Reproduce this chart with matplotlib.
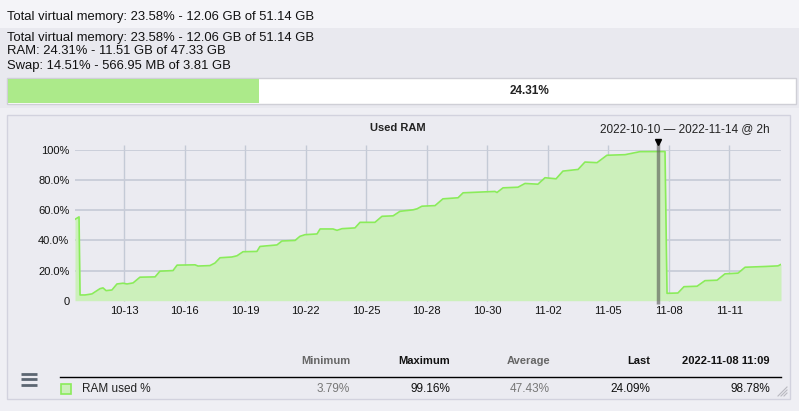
import matplotlib
matplotlib.use("Agg")
import matplotlib.pyplot as plt
from matplotlib.patches import Rectangle
from matplotlib.lines import Line2D

# RAM used % over time (days since start of window, 2h samples)
days = [0.00, 0.20, 0.25, 0.50, 0.84, 1.24, 1.39, 1.54, 1.83, 2.08, 2.38, 2.58, 2.88,
        3.22, 3.97, 4.21, 4.86, 5.06, 5.95, 6.10, 6.69, 6.94, 7.19, 7.78, 8.03, 8.33,
        9.02, 9.17, 10.01, 10.26, 10.91, 11.15, 11.40, 12.00, 12.15, 12.79, 12.99,
        13.24, 13.88, 14.13, 14.87, 15.22, 15.77, 16.11, 16.76, 16.96, 17.20, 17.85,
        18.24, 18.99, 19.24, 20.82, 20.92, 21.22, 21.96, 22.31, 22.95, 23.30, 23.85,
        24.19, 24.94, 25.28, 25.88, 26.37, 27.27, 28.01, 29.25, 29.35, 29.89, 30.19,
        30.84, 31.23, 31.83, 32.22, 32.87, 33.22, 34.21, 34.85, 35.00]
ram_pct = [54.0, 55.6, 3.8, 3.8, 4.5, 8.0, 8.5, 6.7, 7.1, 11.1, 11.6, 11.1, 11.8,
           15.6, 15.8, 19.6, 20.0, 23.6, 23.8, 23.0, 23.3, 25.0, 28.5, 29.0, 29.8, 32.5,
           32.7, 36.0, 37.0, 39.6, 40.0, 42.7, 43.8, 44.3, 47.6, 47.6, 46.7,
           47.8, 48.3, 52.0, 52.0, 56.0, 56.3, 59.3, 60.3, 61.0, 62.7, 63.1,
           67.6, 68.3, 71.6, 72.5, 71.8, 74.9, 75.3, 77.8, 77.3, 81.6, 80.9,
           86.0, 87.1, 92.0, 91.6, 96.5, 96.9, 98.9, 99.0, 4.9, 5.1, 9.3,
           9.6, 13.3, 13.6, 17.8, 18.3, 22.2, 22.7, 23.1, 24.09]

x_labels = ["10-13", "10-16", "10-19", "10-22", "10-25", "10-28", "10-30",
            "11-02", "11-05", "11-08", "11-11"]
first_tick = 2.43   # day offset of the first label
y_ticks = [0, 20, 40, 60, 80, 100]
y_labels = ["0", "20.0%", "40.0%", "60.0%", "80.0%", "100%"]
cursor_day = 28.9

stat_names = ["Minimum", "Maximum", "Average", "Last", "2022-11-08 11:09"]
stat_values = ["3.79%", "99.16%", "47.43%", "24.09%", "98.78%"]
stat_gray = [True, False, True, False, False]

header_lines = ["Total virtual memory: 23.58% - 12.06 GB of 51.14 GB",
                "RAM: 24.31% - 11.51 GB of 47.33 GB",
                "Swap: 14.51% - 566.95 MB of 3.81 GB"]
ram_used = 24.31
bar_fill = 0.318   # width of the green part as drawn in the widget

W, H = 799, 411
plt.rcParams['font.family'] = ['Liberation Sans', 'DejaVu Sans']

fig = plt.figure(figsize=(W / 100, H / 100), dpi=100)
fig.patch.set_facecolor("#efeff4")


def fx(x):
    return x / W


def fy(y):
    return 1 - y / H


def rect(x0, y0, x1, y1, **kw):
    fig.patches.append(Rectangle((fx(x0), fy(y1)), (x1 - x0) / W, (y1 - y0) / H,
                                 transform=fig.transFigure, zorder=-1, **kw))


def line(xs, ys, **kw):
    fig.lines.append(Line2D([fx(v) for v in xs], [fy(v) for v in ys],
                            transform=fig.transFigure, **kw))


# top bands
rect(0, 0, W, 28, facecolor="#f4f4f8", edgecolor="none")
rect(0, 28, W, 108, facecolor="#e9e9ef", edgecolor="none")
fs_top = 9.4
fig.text(fx(7), fy(17), header_lines[0], fontsize=fs_top, va="center", color="#111111")
for i, t in enumerate(header_lines):
    fig.text(fx(7), fy(37.5 + 14 * i), t, fontsize=fs_top, va="center", color="#111111")

# progress bar
bar_x0, bar_x1 = 7, 796
rect(bar_x0, 78, bar_x1, 104, facecolor="white", edgecolor="#cfcfd6", linewidth=1)
rect(bar_x0 + 1, 79, bar_x0 + 1 + (bar_x1 - bar_x0) * bar_fill, 103,
     facecolor="#acea8a", edgecolor="none")
fig.text(fx(530), fy(91), f"{ram_used:.2f}%", fontsize=8.5, fontweight="bold",
         ha="center", va="center", color="#222222")

# chart panel
rect(7, 115, 790, 399, facecolor="#ebebf1", edgecolor="#d2d2de", linewidth=1)

ax = fig.add_axes([fx(75), fy(300.7), 706 / W, 150.7 / H])
ax.set_zorder(2)
ax.set_facecolor("none")
ax.fill_between(days, ram_pct, 0, color="#ccf0bb", linewidth=0, zorder=2)
ax.plot(days, ram_pct, color="#8aec5a", linewidth=1.2, zorder=3)
ax.set_xlim(0, 35)
ax.set_ylim(0, 100)

xt = [first_tick + 3 * i for i in range(len(x_labels))]
ax.set_xticks(xt)
ax.set_xticklabels(x_labels, fontsize=8, color="#111111")
ax.set_yticks(y_ticks)
ax.set_yticklabels(y_labels, fontsize=8, color="#111111")
ax.tick_params(length=0, pad=4)
ax.vlines(xt, 0, 103, color="#c4cad6", linewidth=1, clip_on=False, zorder=1)
ax.hlines(y_ticks[1:], 0, 35, color="#c8ccd8", linewidth=1.3, zorder=1)
for s in ax.spines.values():
    s.set_visible(False)

# cursor
ax.vlines([cursor_day], -2, 105, color="#555555", alpha=0.6, linewidth=2.5,
          clip_on=False, zorder=4)
ax.plot([cursor_day], [105.5], marker="v", markersize=5, color="black",
        clip_on=False, zorder=5)

fig.text(fx(398), fy(128), "Used RAM", fontsize=8, fontweight="bold",
         ha="center", va="center", color="#222222")
fig.text(fx(770), fy(129), "2022-10-10 \u2014 2022-11-14 @ 2h", fontsize=8.5,
         ha="right", va="center", color="#222222")

# legend / stats table
for yy in (373.5, 379, 384.5):
    line([21, 37], [yy, yy], color="#5c6672", linewidth=2, solid_capstyle="butt")
line([60, 781], [377, 377], color="black", linewidth=1)
rect(60.5, 383.5, 71, 394, facecolor="#ccf0bb", edgecolor="#8aec5a", linewidth=1.2)
fig.text(fx(82), fy(389), "RAM used %", fontsize=8.5, va="center", color="#222222")

col_right = [350, 450, 550, 650, 770]
for xr, name, val, gray in zip(col_right, stat_names, stat_values, stat_gray):
    c = "#666666" if gray else "#111111"
    fig.text(fx(xr), fy(361), name, fontsize=8, fontweight="bold", ha="right",
             va="center", color=c)
    fig.text(fx(xr), fy(389), val, fontsize=8.5, ha="right", va="center",
             color="#777777" if gray else "#111111")

# resize grip
for k in range(3):
    line([778 + 3 * k, 787], [396, 387 + 3 * k], color="#b8b8c0", linewidth=0.8)

fig.savefig("out.png", dpi=100, facecolor=fig.get_facecolor())
